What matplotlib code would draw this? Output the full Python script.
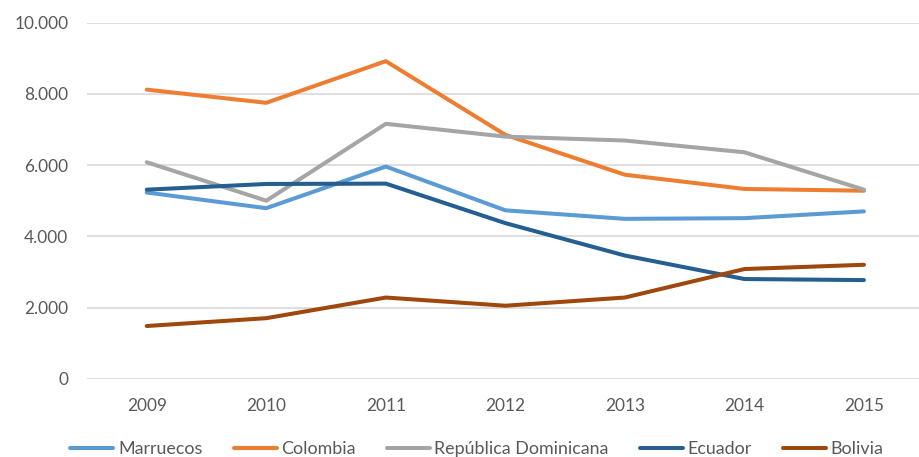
import matplotlib.pyplot as plt
from matplotlib.ticker import FuncFormatter

plt.rcParams['font.family'] = ['Lato', 'DejaVu Sans']

years = ['2009', '2010', '2011', '2012', '2013', '2014', '2015']
marruecos = [5230, 4790, 5960, 4730, 4490, 4510, 4700]
colombia = [8120, 7750, 8920, 6850, 5730, 5330, 5280]
rep_dominicana = [6080, 5000, 7160, 6800, 6690, 6360, 5310]
ecuador = [5310, 5470, 5480, 4370, 3460, 2800, 2770]
bolivia = [1480, 1700, 2280, 2050, 2280, 3080, 3200]

series = [
    ('Marruecos', marruecos, '#5B9BD5'),
    ('Colombia', colombia, '#ED7D31'),
    ('República Dominicana', rep_dominicana, '#A5A5A5'),
    ('Ecuador', ecuador, '#255E91'),
    ('Bolivia', bolivia, '#9E480E'),
]

txt = '#595959'
fs = 12.4

fig = plt.figure(figsize=(9.19, 4.57), dpi=100)
ax = fig.add_axes([87 / 919, 78.3 / 457, 836.7 / 919, 356 / 457])

x = list(range(len(years)))
for name, vals, col in series:
    ax.plot(x, vals, color=col, lw=2.9, label=name,
            solid_capstyle='round', solid_joinstyle='round')

ax.set_xlim(-0.5, 6.5)
ax.set_ylim(0, 10000)
ax.set_yticks(range(0, 10001, 2000))
ax.yaxis.set_major_formatter(FuncFormatter(lambda v, p: f'{int(v):,}'.replace(',', '.')))
ax.set_xticks(x)
ax.set_xticklabels(years)
ax.grid(axis='y', color='#D9D9D9', lw=1.2)
ax.set_axisbelow(True)
for s in ax.spines.values():
    s.set_visible(False)
ax.tick_params(axis='both', length=0, colors=txt, labelsize=fs)
ax.tick_params(axis='y', pad=13.5)
ax.tick_params(axis='x', pad=14)

fig.legend(loc='center', bbox_to_anchor=(477 / 919, 8 / 457), ncol=5,
           frameon=False, fontsize=12.9, labelcolor=txt, handlelength=2.4,
           handletextpad=0.25, columnspacing=1.75, borderpad=0)

fig.savefig('out.png', dpi=100)
